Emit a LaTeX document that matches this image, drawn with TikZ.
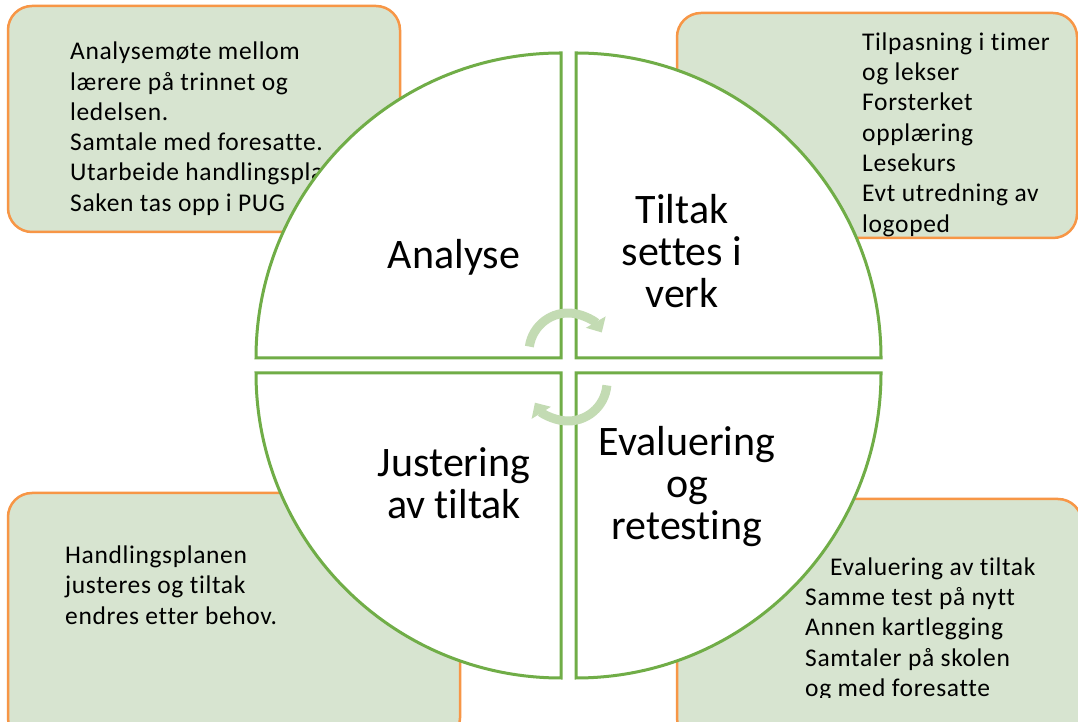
\documentclass[tikz,border=0pt]{standalone}
\usepackage{fontspec}
\setmainfont{Carlito}[Ligatures={NoCommon}]
\newfontfamily\smallfam{Carlito}[Ligatures={NoCommon},LetterSpace=2.5]
\usetikzlibrary{arrows.meta}
\definecolor{qgreen}{HTML}{70AD47}
\definecolor{boxfill}{HTML}{D7E4D0}
\definecolor{boxline}{HTML}{F79646}
\definecolor{cycgreen}{HTML}{C3DBB3}
\begin{document}
\begin{tikzpicture}[x=1pt,y=1pt,
  infobox/.style={draw=boxline,line width=2.5pt,fill=boxfill,rounded corners=24pt},
  quad/.style={draw=qgreen,line width=3pt,fill=white,line join=miter},
  smalltxt/.style={inner sep=0pt,align=left,anchor=north west,font=\smallfam\fontsize{25.5}{30.3}\selectfont},
  bigtxt/.style={inner sep=0pt,align=center,font=\fontsize{42}{42}\selectfont},
  cycarrow/.style={draw=cycgreen,line width=9pt,-{Triangle[width=22pt,length=12pt]}}]
\useasboundingbox (0,0) rectangle (1078,722);
\fill[white] (0,0) rectangle (1078,722);
% info boxes
\draw[infobox] (8,490) rectangle (400,716);
\draw[infobox] (677,484) rectangle (1077,709);
\draw[infobox] (8,-20) rectangle (460,229);
\draw[infobox] (677,-20) rectangle (1082,223);
% box texts
\node[smalltxt] (tltxt) at (70,{722-59.5+21.2}) {\strut Analysemøte mellom\\lærere på trinnet og\\ledelsen.\\Samtale med foresatte.\\Utarbeide handlingsplan\\Saken tas opp i PUG};
\node[smalltxt] (trtxt) at (862,{722-50+21.2}) {\strut Tilpasning i timer\\og lekser\\Forsterket\\opplæring\\Lesekurs\\Evt utredning av\\logoped};
\node[smalltxt] (bltxt) at (65,{722-563.3+21.2}) {\strut Handlingsplanen\\justeres og tiltak\\endres etter behov.};
\begin{scope}
\clip (600,24) rectangle (1078,200);
\node[smalltxt] (brtxt) at (805,{722-575+21.2}) {\strut\hspace{25pt}Evaluering av tiltak\\Samme test på nytt\\Annen kartlegging\\Samtaler på skolen\\og med foresatte};
\end{scope}
% quadrants
\draw[quad] (561,364) -- (256,364) arc[start angle=180,end angle=90,radius=305] -- cycle;
\draw[quad] (576,364) -- (576,669) arc[start angle=90,end angle=0,radius=305] -- cycle;
\draw[quad] (561,349) -- (561,44) arc[start angle=270,end angle=180,radius=305] -- cycle;
\draw[quad] (576,349) -- (881,349) arc[start angle=0,end angle=-90,radius=305] -- cycle;
% quadrant labels
\node[bigtxt,anchor=base] (analyse) at (454,453.5) {Analyse};
\node[bigtxt,anchor=north] (tiltak) at (682,{722-223+29.4}) {\strut Tiltak\\settes i\\verk};
\node[bigtxt,anchor=north] (justering) at (454,{722-476.7+29.4}) {\strut Justering\\av tiltak};
\node[bigtxt,anchor=north] (evaluering) at (687,{722-455+29.4}) {\strut Evaluering\\og\\retesting};
% cycle arrows
\coordinate (cyctop) at (568,370);
\coordinate (cycbot) at (568,340);
\draw[cycarrow] (cyctop) ++(172:39) arc[start angle=172,end angle=30,radius=39];
\draw[cycarrow] (cycbot) ++(-5:39) arc[start angle=-5,end angle=-148,radius=39];
\end{tikzpicture}
\end{document}
